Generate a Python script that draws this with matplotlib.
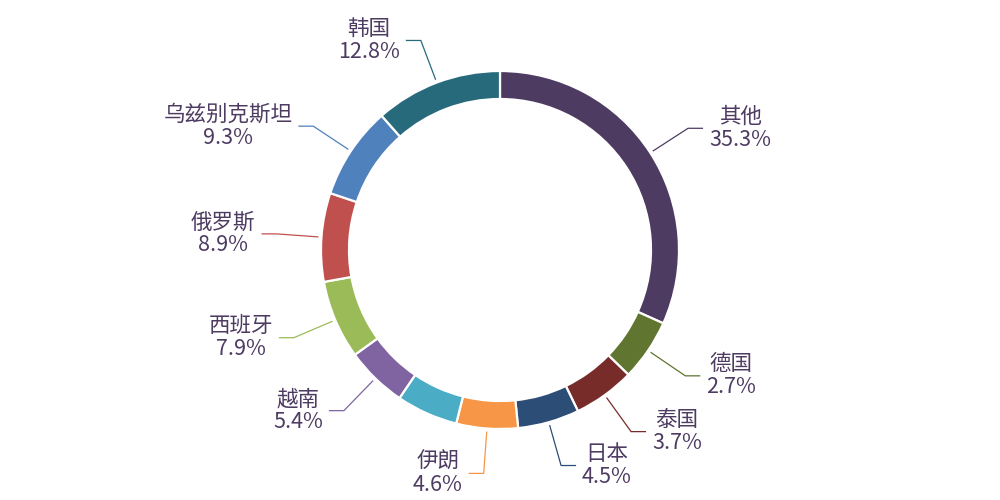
import numpy as np
import matplotlib
matplotlib.use('Agg')
import matplotlib.pyplot as plt

plt.rcParams['font.family'] = ['Noto Sans CJK SC', 'DejaVu Sans']

# slices clockwise from 12 o'clock; the aqua one has no label shown in the chart
names = ['其他', '德国', '泰国', '日本', '伊朗', '', '越南', '西班牙', '俄罗斯', '乌兹别克斯坦', '韩国']
pcts = [35.3, 2.7, 3.7, 4.5, 4.6, 4.9, 5.4, 7.9, 8.9, 9.3, 12.8]
colors = ['#4d3b62', '#5f7530', '#772c2a', '#2c4d75', '#f79646', '#4bacc6',
          '#8064a2', '#9bbb59', '#c0504d', '#4f81bd', '#276a7c']
text_color = '#4d3b62'

# small slices are drawn with a minimum angle, the rest share what is left
min_angle = 20.0
pcts_a = np.array(pcts)
raw = pcts_a / pcts_a.sum() * 360
small = raw < min_angle
rest = 360 - min_angle * small.sum()
angles = np.where(small, min_angle, rest * pcts_a / pcts_a[~small].sum())

W, H = 1000, 500
cx, cy = 500, 250
r_out = 179
ring_w = 28

fig = plt.figure(figsize=(10, 5), dpi=100)
ax = fig.add_axes([0, 0, 1, 1])

ax.pie(angles, colors=colors, radius=r_out, center=(cx, cy), startangle=90,
       counterclock=False,
       wedgeprops=dict(width=ring_w, edgecolor='white', linewidth=1.6))

ax.set_xlim(0, W)
ax.set_ylim(0, H)
ax.set_aspect('equal')
ax.axis('off')

# leader lines + labels
start = 0.0
for name, p, a, c in zip(names, pcts, angles, colors):
    mid = np.deg2rad(start + a / 2)   # clockwise from top
    start += a
    if not name:
        continue
    sx, sy = np.sin(mid), np.cos(mid)
    x0, y0 = cx + (r_out + 3) * sx, cy + (r_out + 3) * sy
    x1, y1 = cx + 224 * sx, cy + 224 * sy
    side = 1 if sx >= 0 else -1
    x2 = x1 + side * 15
    ax.plot([x0, x1, x2], [y0, y1, y1], color=c, lw=0.9, solid_capstyle='butt')
    ax.text(x2 + side * 6, y1, f'{name}\n{p:.1f}%', ha='left' if side > 0 else 'right',
            va='center', multialignment='center', fontsize=15.5, color=text_color,
            linespacing=1.05)

fig.savefig('out.png', dpi=100, facecolor='white')
